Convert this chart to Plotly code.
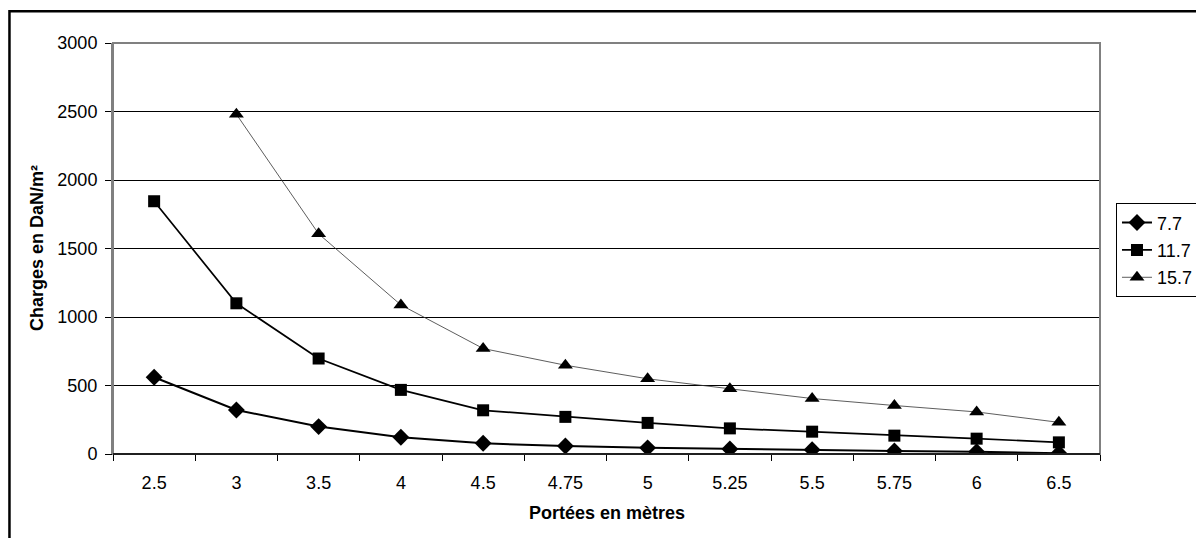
import plotly.graph_objects as go

portees = ["2.5", "3", "3.5", "4", "4.5", "4.75", "5", "5.25", "5.5", "5.75", "6", "6.5"]
s_7_7 = [560, 321, 200, 122, 78, 58, 45, 36, 31, 22, 17, 5]
s_11_7 = [1845, 1100, 697, 468, 319, 271, 227, 187, 163, 134, 112, 85]
s_15_7 = [None, 2480, 1607, 1088, 770, 648, 549, 476, 405, 354, 307, 231]
series_names = ["7.7", "11.7", "15.7"]
y_ticks = [0, 500, 1000, 1500, 2000, 2500, 3000]
x_title = "Portées en mètres"
y_title = "Charges en DaN/m²"

FONT = "Liberation Sans, Arial, sans-serif"
FS = 18

fig = go.Figure()
fig.add_trace(go.Scatter(x=portees, y=s_7_7, name=series_names[0], mode="lines+markers",
                         legendgroup="a",
                         line=dict(color="black", width=2),
                         marker=dict(symbol="diamond", size=13, color="black")))
fig.add_trace(go.Scatter(x=portees, y=s_11_7, name=series_names[1], mode="lines+markers",
                         legendgroup="b",
                         line=dict(color="black", width=1.7),
                         marker=dict(symbol="square", size=12, color="black")))
fig.add_trace(go.Scatter(x=portees, y=s_15_7, name=series_names[2], mode="lines+markers",
                         legendgroup="c",
                         line=dict(color="#333333", width=0.8),
                         marker=dict(symbol="triangle-up", size=13, color="black")))

fig.update_layout(
    width=1204, height=538,
    margin=dict(l=105, r=112, t=35, b=92),
    paper_bgcolor="white", plot_bgcolor="white",
    font=dict(family=FONT, size=FS, color="black"),
    showlegend=True,
    legend=dict(x=1.0162, y=0.61, xanchor="left", yanchor="top",
                bordercolor="black", borderwidth=1, bgcolor="white",
                font=dict(family=FONT, size=FS, color="black"),
                itemwidth=30, tracegroupgap=1),
    xaxis=dict(type="category", categoryorder="array", categoryarray=portees,
               range=[-0.5, len(portees) - 0.5],
               showline=True, linecolor="black", linewidth=1,
               ticks="outside", ticklen=6, tickcolor="black", tickson="boundaries",
               ticklabelstandoff=12,
               showgrid=False, zeroline=False, automargin=False,
               tickfont=dict(family=FONT, size=FS, color="black")),
    yaxis=dict(range=[0, 3000], tickvals=y_ticks,
               showline=True, linecolor="#808080", linewidth=2,
               ticks="outside", ticklen=6, tickcolor="black",
               ticklabelstandoff=4,
               showgrid=True, gridcolor="black", gridwidth=1, zeroline=False,
               automargin=False,
               tickfont=dict(family=FONT, size=FS, color="black")),
    annotations=[
        dict(text="<b>" + x_title + "</b>", xref="paper", yref="paper",
             x=0.5, y=(454 - 513) / 411, xanchor="center", yanchor="middle",
             showarrow=False, font=dict(family=FONT, size=FS, color="black")),
        dict(text="<b>" + y_title + "</b>", xref="paper", yref="paper",
             x=(37 - 113) / 987, y=(454 - 248) / 411, xanchor="center", yanchor="middle",
             textangle=-90, showarrow=False, font=dict(family=FONT, size=FS, color="black")),
    ],
    shapes=[
        dict(type="rect", xref="paper", yref="paper", x0=0, x1=1, y0=0, y1=1,
             line=dict(color="#808080", width=2), layer="above"),
        dict(type="line", xref="paper", yref="paper", x0=0, x1=1, y0=0, y1=0,
             line=dict(color="black", width=1.5), layer="above"),
        dict(type="rect", xref="paper", yref="paper", x0=-0.1049, x1=1.2,
             y0=-0.4, y1=1.077, line=dict(color="black", width=2.5), layer="above"),
    ],
)

fig.write_html("out.html")
